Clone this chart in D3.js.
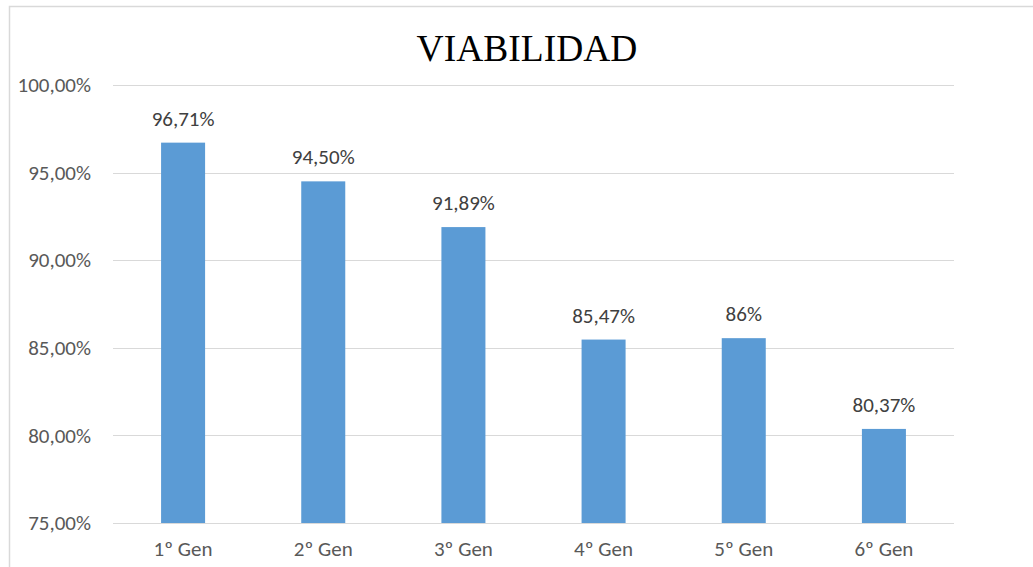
<!DOCTYPE html>
<html>
<head>
<meta charset="utf-8">
<script src="https://cdn.jsdelivr.net/npm/d3@7"></script>
<style>
  body { margin: 0; background: #fff; overflow: hidden; }
  text { font-family: Carlito, "Open Sans", "Noto Sans", sans-serif; }
</style>
</head>
<body>
<div id="chart"></div>
<script>
// data
const categories = ['1º Gen', '2º Gen', '3º Gen', '4º Gen', '5º Gen', '6º Gen'];
const values = [96.71, 94.50, 91.89, 85.47, 85.55, 80.37];
const valueLabels = ['96,71%', '94,50%', '91,89%', '85,47%', '86%', '80,37%'];
const yTicks = [75, 80, 85, 90, 95, 100];

const width = 1033, height = 567;
const margin = { left: 113, right: 79, top: 85, bottom: 44 };

let svg = d3.select('#chart').append('svg')
    .attr('width', width)
    .attr('height', height)
    .style('display', 'block');

// chart frame (only left and top edges are in view)
svg.append('path')
    .attr('d', `M9.5,${height}V6.5H${width}`)
    .style('fill', 'none')
    .style('stroke', '#d9d9d9')
    .style('stroke-width', 1.5);

let x = d3.scaleBand()
    .domain(categories)
    .range([margin.left, width - margin.right])
    .paddingInner(0.686)
    .paddingOuter(0.343);

let y = d3.scaleLinear()
    .domain([75, 100])
    .range([height - margin.bottom, margin.top]);

// gridlines
svg.append('g')
    .selectAll('line')
    .data(yTicks)
    .join('line')
        .attr('x1', margin.left)
        .attr('x2', width - margin.right)
        .attr('y1', d => Math.round(y(d)) + 0.5)
        .attr('y2', d => Math.round(y(d)) + 0.5)
        .style('stroke', '#d9d9d9')
        .style('stroke-width', 1.2);

// y axis labels
let fmt = d => d3.format('.2f')(d).replace('.', ',') + '%';
let yAxis = d3.axisLeft(y).tickValues(yTicks).tickSize(0).tickPadding(22).tickFormat(fmt);
svg.append('g')
    .attr('transform', `translate(${margin.left},0)`)
    .call(yAxis)
    .call(g => g.select('.domain').remove())
    .call(g => g.selectAll('text')
        .style('font-size', '21px')
        .style('fill', '#595959'));

// bars
svg.append('g')
    .selectAll('rect')
    .data(values)
    .join('rect')
        .attr('x', (d, i) => x(categories[i]))
        .attr('y', d => y(d))
        .attr('width', x.bandwidth())
        .attr('height', d => y(75) - y(d))
        .style('fill', '#5b9bd5');

// value labels
svg.append('g')
    .selectAll('text')
    .data(values)
    .join('text')
        .attr('x', (d, i) => x(categories[i]) + x.bandwidth() / 2)
        .attr('y', d => y(d) - 17)
        .attr('text-anchor', 'middle')
        .style('font-size', '21px')
        .style('fill', '#404040')
        .text((d, i) => valueLabels[i]);

// x axis labels
let xAxis = d3.axisBottom(x).tickSize(0).tickPadding(18);
svg.append('g')
    .attr('transform', `translate(0,${height - margin.bottom})`)
    .call(xAxis)
    .call(g => g.select('.domain').remove())
    .call(g => g.selectAll('text')
        .style('font-size', '21px')
        .style('fill', '#595959'));

// title
svg.append('text')
    .attr('x', 527)
    .attr('y', 61)
    .attr('text-anchor', 'middle')
    .style('font-family', '"Liberation Serif", "Times New Roman", serif')
    .style('font-size', '37.5px')
    .style('fill', '#000')
    .text('VIABILIDAD');
</script>
</body>
</html>
